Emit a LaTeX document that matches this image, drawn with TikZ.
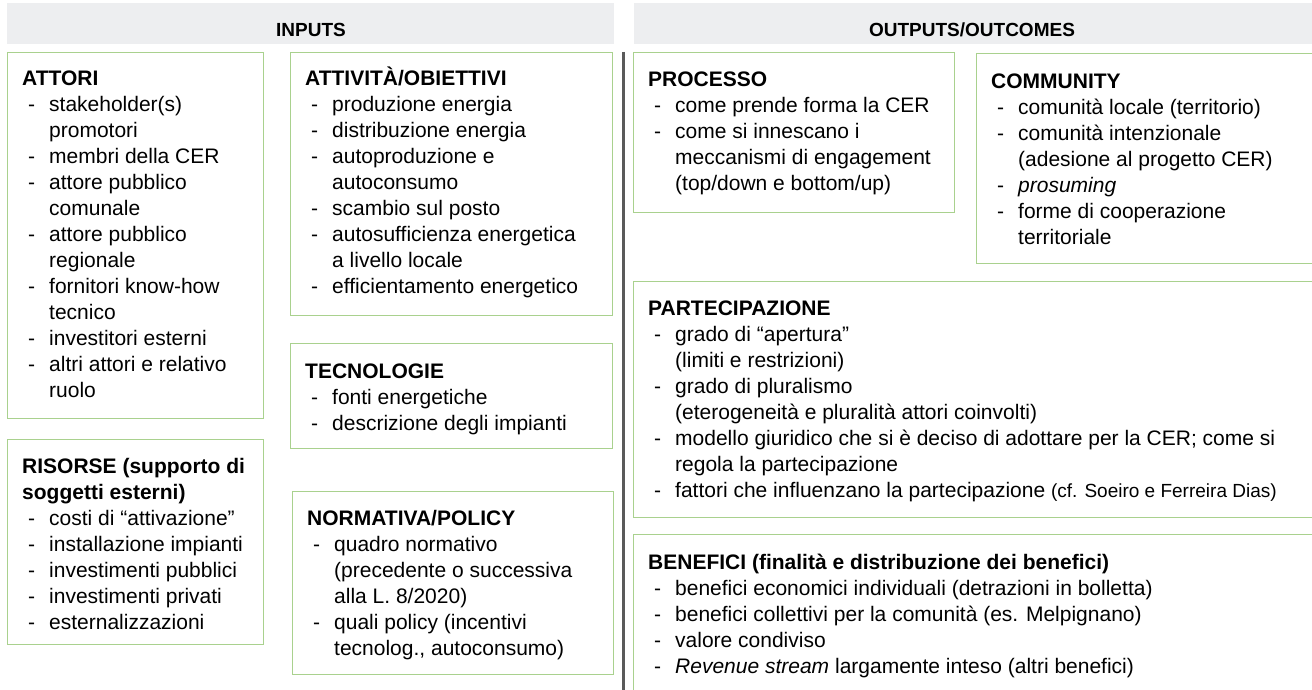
\documentclass[tikz,border=0pt]{standalone}
\usepackage{fontspec}
\setmainfont{Liberation Sans}
\definecolor{hdrgray}{HTML}{EDEEF0}
\definecolor{boxgreen}{HTML}{A9D18E}
\definecolor{sepgray}{HTML}{5A5A5A}
\newcommand\tstr{\rule{0pt}{20pt}}
\newcommand\ttl[1]{\tstr\textbf{#1}}
\newcommand\itm[1]{\hspace*{6pt}\makebox[21pt][l]{-}#1}
\newcommand\cnt[1]{\hspace*{27pt}#1}
\tikzset{
  panel/.style={draw=boxgreen, line width=1.3pt, anchor=north west, inner sep=0pt},
  hdrbar/.style={fill=hdrgray, draw=none, anchor=north west, inner sep=0pt},
  hdrtext/.style={font=\fontsize{19}{22}\selectfont\bfseries, inner sep=0pt, anchor=base},
  content/.style={anchor=north west, inner sep=0pt, align=left, font=\fontsize{21}{26}\selectfont}
}
\begin{document}
\begin{tikzpicture}[x=1pt,y=-1pt]
\useasboundingbox (0,0) rectangle (1312,690);
% header bars
\node[hdrbar, minimum width=607pt, minimum height=41pt] (hin) at (7,3) {};
\node[hdrbar, minimum width=685pt, minimum height=41pt] (hout) at (634,3) {};
\node[hdrtext] (tin) at (311,37) {INPUTS};
\node[hdrtext] (tout) at (972,37) {OUTPUTS/OUTCOMES};
% separator
\coordinate (s1) at (623.5,52);
\coordinate (s2) at (623.5,692);
\draw[sepgray, line width=3pt] (s1) -- (s2);
% panels
\node[panel, minimum width=256pt, minimum height=366pt] (attori) at (7,52) {};
\node[panel, minimum width=256pt, minimum height=205pt] (risorse) at (7,439) {};
\node[panel, minimum width=322pt, minimum height=263pt] (attivita) at (290,52) {};
\node[panel, minimum width=322pt, minimum height=105pt] (tecno) at (290,343) {};
\node[panel, minimum width=321pt, minimum height=183pt] (norma) at (292,491) {};
\node[panel, minimum width=321pt, minimum height=160pt] (processo) at (633,52) {};
\node[panel, minimum width=340pt, minimum height=210pt] (community) at (976,53) {};
\node[panel, minimum width=685pt, minimum height=236pt] (partec) at (633,281) {};
\node[panel, minimum width=685pt, minimum height=170pt] (benefici) at (633,534) {};
% contents
\node[content] (tattori) at (22,65) {\ttl{ATTORI}\\
\itm{stakeholder(s)}\\ \cnt{promotori}\\
\itm{membri della CER}\\
\itm{attore pubblico}\\ \cnt{comunale}\\
\itm{attore pubblico}\\ \cnt{regionale}\\
\itm{fornitori know-how}\\ \cnt{tecnico}\\
\itm{investitori esterni}\\
\itm{altri attori e relativo}\\ \cnt{ruolo}};
\node[content] (trisorse) at (22,453.5) {\ttl{RISORSE (supporto di}\\
\textbf{soggetti esterni)}\\
\itm{costi di “attivazione”}\\
\itm{installazione impianti}\\
\itm{investimenti pubblici}\\
\itm{investimenti privati}\\
\itm{esternalizzazioni}};
\node[content] (tattivita) at (305,65) {\ttl{ATTIVITÀ/OBIETTIVI}\\
\itm{produzione energia}\\
\itm{distribuzione energia}\\
\itm{autoproduzione e}\\ \cnt{autoconsumo}\\
\itm{scambio sul posto}\\
\itm{autosufficienza energetica}\\ \cnt{a livello locale}\\
\itm{efficientamento energetico}};
\node[content] (ttecno) at (305,358) {\ttl{TECNOLOGIE}\\
\itm{fonti energetiche}\\
\itm{descrizione degli impianti}};
\node[content] (tnorma) at (307,505.5) {\ttl{NORMATIVA/POLICY}\\
\itm{quadro normativo}\\ \cnt{(precedente o successiva}\\ \cnt{alla L. 8/2020)}\\
\itm{quali policy (incentivi}\\ \cnt{tecnolog., autoconsumo)}};
\node[content] (tprocesso) at (648,66) {\ttl{PROCESSO}\\
\itm{come prende forma la CER}\\
\itm{come si innescano i}\\ \cnt{meccanismi di engagement}\\ \cnt{(top/down e bottom/up)}};
\node[content] (tcommunity) at (991,68) {\ttl{COMMUNITY}\\
\itm{comunità locale (territorio)}\\
\itm{comunità intenzionale}\\ \cnt{(adesione al progetto CER)}\\
\itm{\textit{prosuming}}\\
\itm{forme di cooperazione}\\ \cnt{territoriale}};
\node[content] (tpartec) at (648,295.5) {\ttl{PARTECIPAZIONE}\\
\itm{grado di “apertura”}\\ \cnt{(limiti e restrizioni)}\\
\itm{grado di pluralismo}\\ \cnt{(eterogeneità e pluralità attori coinvolti)}\\
\itm{modello giuridico che si è deciso di adottare per la CER; come si}\\ \cnt{regola la partecipazione}\\
\itm{fattori che influenzano la partecipazione {\fontsize{19}{22}\selectfont(cf. Soeiro e Ferreira Dias)}}};
\node[content] (tbenefici) at (648,549.5) {\ttl{BENEFICI (finalità e distribuzione dei benefici)}\\
\itm{benefici economici individuali (detrazioni in bolletta)}\\
\itm{benefici collettivi per la comunità (es. Melpignano)}\\
\itm{valore condiviso}\\
\itm{\textit{Revenue stream} largamente inteso (altri benefici)}};
\end{tikzpicture}
\end{document}
